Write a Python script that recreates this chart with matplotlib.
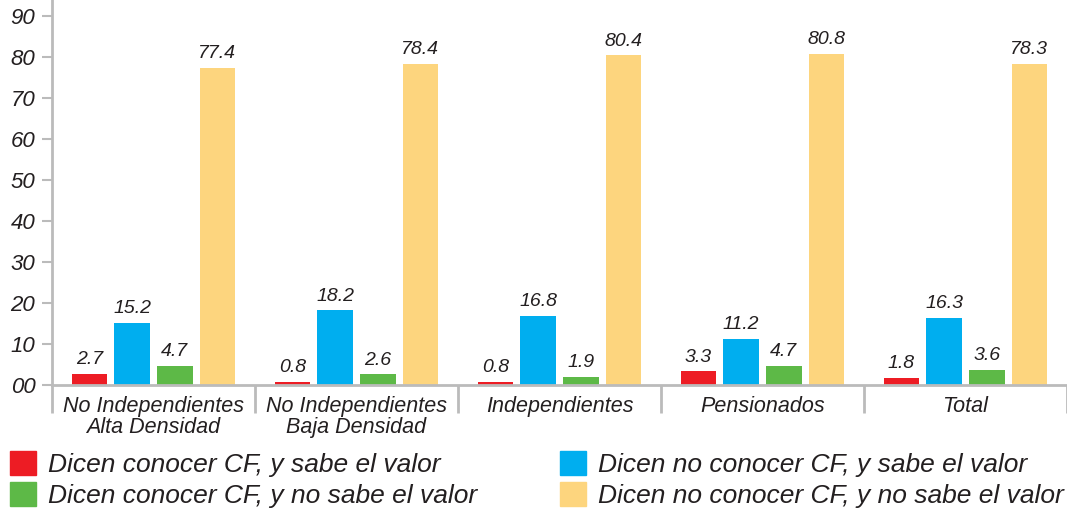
import numpy as np
import matplotlib
matplotlib.use('Agg')
import matplotlib.pyplot as plt
from matplotlib.patches import Patch

plt.rcParams['font.family'] = ['Liberation Sans', 'DejaVu Sans']

# Data
categories = ['No Independientes\nAlta Densidad', 'No Independientes\nBaja Densidad',
              'Independientes', 'Pensionados', 'Total']
series_names = ['Dicen conocer CF, y sabe el valor',
                'Dicen no conocer CF, y sabe el valor',
                'Dicen conocer CF, y no sabe el valor',
                'Dicen no conocer CF, y no sabe el valor']
conoce_sabe = [2.7, 0.8, 0.8, 3.3, 1.8]
no_conoce_sabe = [15.2, 18.2, 16.8, 11.2, 16.3]
conoce_no_sabe = [4.7, 2.6, 1.9, 4.7, 3.6]
no_conoce_no_sabe = [77.4, 78.4, 80.4, 80.8, 78.3]
colors = ['#ED1C24', '#00AEEF', '#5DB947', '#FDD57E']
y_ticks = [0, 10, 20, 30, 40, 50, 60, 70, 80, 90]
y_tick_labels = ['00', '10', '20', '30', '40', '50', '60', '70', '80', '90']

series = [conoce_sabe, no_conoce_sabe, conoce_no_sabe, no_conoce_no_sabe]
text_col = '#231F20'
grey = '#BBBBBB'

fig = plt.figure(figsize=(10.67, 5.11), dpi=100)
ax = fig.add_axes([52 / 1067, 126 / 511, 1 - 52 / 1067, 1 - 126 / 511])

x = np.arange(len(categories))
width = 0.175
offsets = [-0.315, -0.105, 0.105, 0.315]

for vals, off, col in zip(series, offsets, colors):
    bars = ax.bar(x + off, vals, width, color=col, zorder=2)
    for b, v in zip(bars, vals):
        ax.text(b.get_x() + b.get_width() / 2, v + 1.4, '%.1f' % v,
                ha='center', va='bottom', fontsize=14, style='italic', color=text_col)

ax.set_xlim(-0.5, 4.44)
ax.set_ylim(0, 93.9)

ax.set_yticks(y_ticks)
ax.set_yticklabels(y_tick_labels, fontsize=16, style='italic', color=text_col)
ax.tick_params(axis='y', length=7, width=1.5, color=grey, pad=5)

ax.set_xticks(x)
ax.set_xticklabels(categories, fontsize=15.5, style='italic', color=text_col, linespacing=1.0)
ax.tick_params(axis='x', length=0, pad=8)
ax.set_xticks(np.arange(-0.5, 4.6, 1.0), minor=True)
ax.tick_params(axis='x', which='minor', length=20, width=2, color=grey)

for side in ['top', 'right']:
    ax.spines[side].set_visible(False)
for side in ['left', 'bottom']:
    ax.spines[side].set_color(grey)
    ax.spines[side].set_linewidth(2)

# legend in two separate columns, like the reference
leg_kw = dict(loc='lower left', frameon=False, prop={'size': 19, 'style': 'italic'},
              handlelength=1.0, handleheight=1.0, handletextpad=0.45,
              labelspacing=0.2, borderaxespad=0.0, borderpad=0.0)
leg1 = fig.legend([Patch(color=colors[0]), Patch(color=colors[2])],
                  [series_names[0], series_names[2]],
                  bbox_to_anchor=(10 / 1067, 3 / 511), **leg_kw)
for t in leg1.get_texts():
    t.set_color(text_col)
leg2 = fig.legend([Patch(color=colors[1]), Patch(color=colors[3])],
                  [series_names[1], series_names[3]],
                  bbox_to_anchor=(560 / 1067, 3 / 511), **leg_kw)
for t in leg2.get_texts():
    t.set_color(text_col)

fig.savefig('out.png', dpi=100)
